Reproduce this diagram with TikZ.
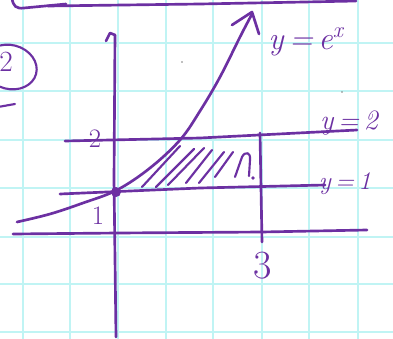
\documentclass[tikz,border=0pt]{standalone}
\usepackage{fontspec}
\usetikzlibrary{calc}
\definecolor{ink}{RGB}{108,48,162}
\definecolor{gridc}{RGB}{192,244,244}
\tikzset{
  pen/.style={draw=ink, line width=2pt, line cap=round, line join=round},
  thinpen/.style={draw=ink, line width=1.6pt, line cap=round, line join=round},
  lab/.style={text=ink, inner sep=0pt},
}
\begin{document}
\begin{tikzpicture}[x=0.75pt,y=-0.75pt]
\useasboundingbox (0,0) rectangle (393,339);
\fill[white] (0,0) rectangle (393,339);
% graph paper
\foreach \gx in {23,70,118,166,213,262,309,358}
  \draw[gridc, line width=1.3pt] (\gx,0) -- (\gx,339);
\foreach \gy in {43,91,140,188,237,284,332}
  \draw[gridc, line width=1.3pt] (0,\gy) -- (393,\gy);
% top box edge
\draw[pen] (12,-2) .. controls (13,6) and (16,9) .. (24,8) -- (66,4);
\draw[pen] (48,6) -- (200,4) -- (356,1);
% circled 2 at left
\draw[thinpen, rotate around={-15:(10,67)}] (10,67) ellipse [x radius=27, y radius=22];
\node[lab, font=\fontsize{22}{22}\selectfont] (circ) at (6,62) {2};
\draw[thinpen] (-2,107) -- (15,104);
% axes
\draw[pen] (106,41) -- (110,33) -- (115,35);
\coordinate (ytop) at (115,35);
\coordinate (ybot) at (116,337);
\draw[pen] (ytop) -- (114,180) -- (ybot);
\coordinate (xl) at (13,234);
\coordinate (xr) at (367,230);
\draw[pen] (xl) -- (118,233) -- (262,232) -- (xr);
% y=1 and y=2
\draw[pen] (60,194) -- (200,188) -- (325,185);
\draw[pen] (65,141) -- (200,138) -- (357,130);
% x=3
\draw[pen] (260,133) -- (262,242);
% curve y=e^x
\draw[pen] plot[smooth, tension=0.6] coordinates {(17,222) (50,214) (83,203) (117,190) (150,168) (180,140) (200,111) (220,77) (240,37) (252,14)};
\draw[pen] (232,25) -- (252,12) -- (259,34);
% origin dot
\fill[ink] (116,192) circle (5);
% hatching
\draw[thinpen] (142,187) -- (180,146);
\draw[thinpen] (156,187) -- (194,149);
\draw[thinpen] (168,185) -- (204,148);
\draw[thinpen] (186,183) -- (212,150);
\draw[thinpen] (199,183) -- (224,152);
\draw[thinpen] (215,177) -- (233,152);
\draw[thinpen] (235,177) -- (242,157) .. controls (245,151) and (251,152) .. (250,160) -- (249,176);
\fill[ink] (253,178) circle (1.8);
% labels
\node[lab, font=\fontsize{20}{20}\selectfont] (two) at (95,139) {2};
\node[lab, font=\fontsize{20}{20}\selectfont] (one) at (98,216) {1};
\node[lab, font=\fontsize{30}{30}\selectfont] (three) at (263,266) {3};
\node[lab, font=\fontsize{24}{24}\selectfont\itshape] (ex) at (306,42) {y\,=\,e\textsuperscript{x}};
\node[lab, font=\fontsize{21}{21}\selectfont\itshape] (l2) at (349,123) {y\,=\,2};
\node[lab, font=\fontsize{19}{19}\selectfont\itshape] (l1) at (345,184) {y\,=\,1};
% paper specks
\fill[gray] (182,62) circle (0.9);
\fill[gray] (342,92) circle (0.9);
\end{tikzpicture}
\end{document}
